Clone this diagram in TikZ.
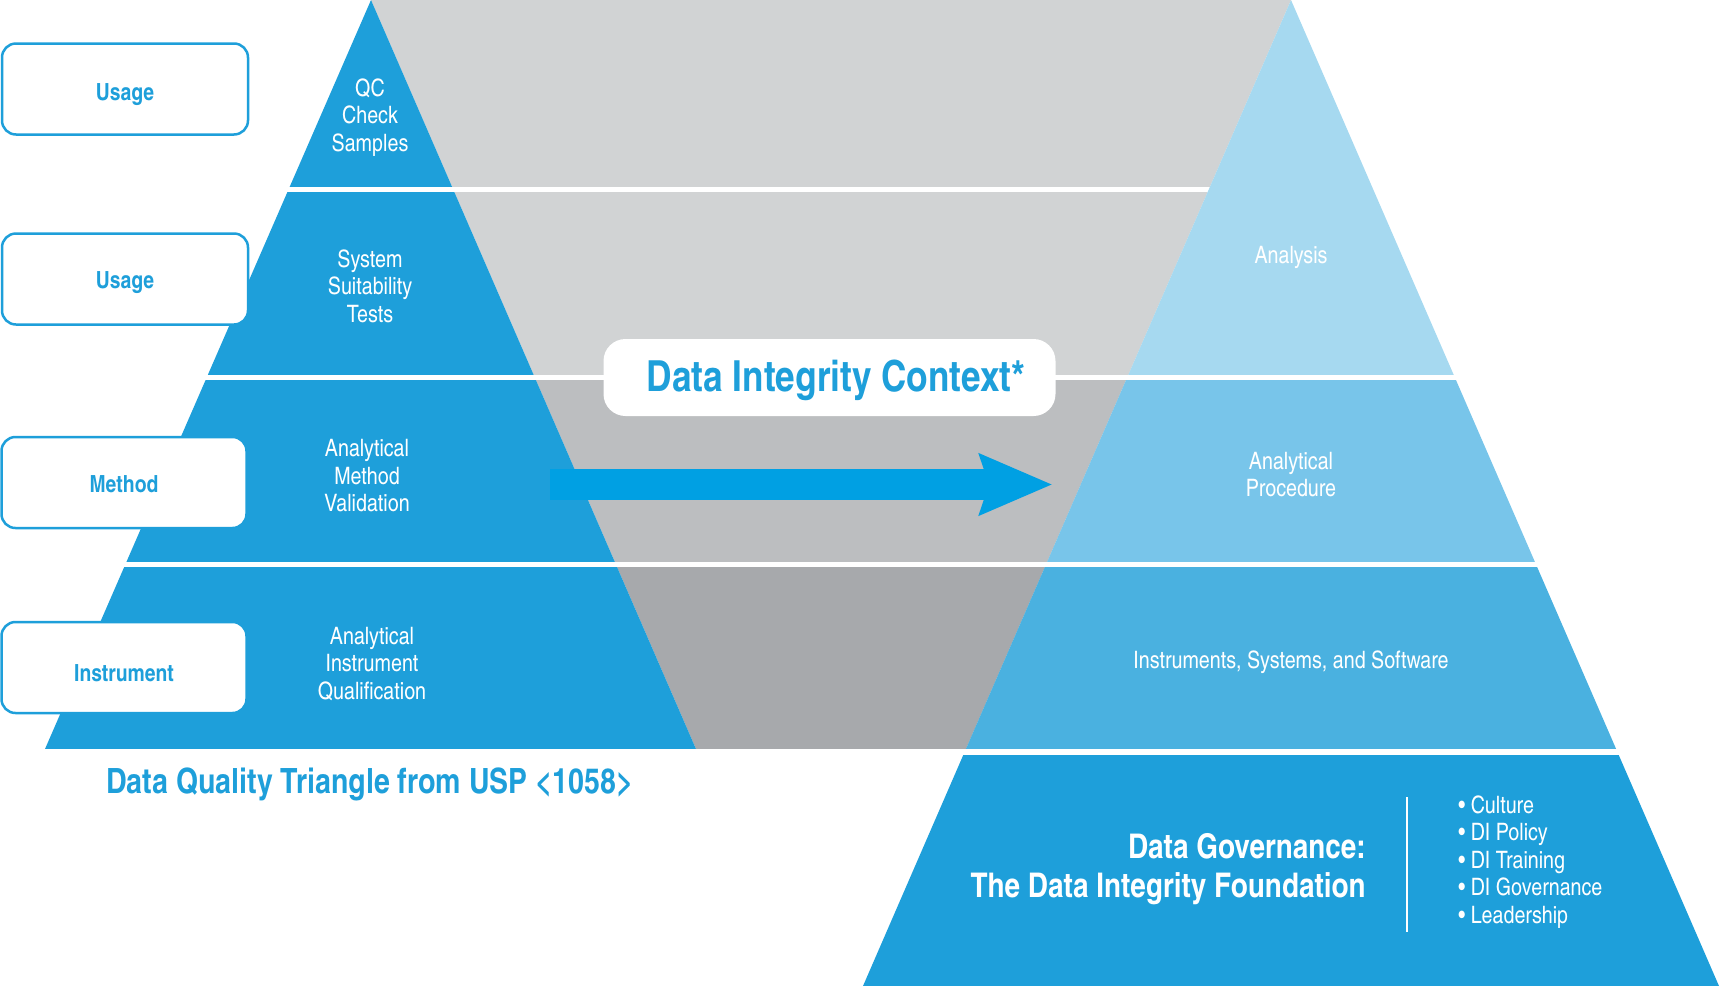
\documentclass[tikz,border=0pt]{standalone}
\usepackage{fontspec}
\setmainfont{texgyreheroscn}[Extension=.otf, UprightFont=*-regular, BoldFont=*-bold]
\newfontfamily\herosfam{TeX Gyre Heros}[FakeStretch=0.85]
\usetikzlibrary{arrows.meta}
\definecolor{tri}{RGB}{30,159,218}
\definecolor{arrowc}{RGB}{0,160,227}
\definecolor{gA}{RGB}{209,211,212}
\definecolor{gB}{RGB}{188,190,192}
\definecolor{gC}{RGB}{167,169,172}
\definecolor{rA}{RGB}{166,217,240}
\definecolor{rB}{RGB}{120,197,234}
\definecolor{rC}{RGB}{74,177,224}
\definecolor{rD}{RGB}{30,159,218}
\begin{document}
\begin{tikzpicture}[x=0.5pt,y=-0.5pt,
  lbox/.style={draw=tri, line width=1.25pt, fill=white, rounded corners=7pt,
    minimum width=123pt, minimum height=45.5pt, inner sep=0pt},
  ltext/.style={text=tri, inner sep=0pt, text height=0.72em, text depth=0pt,
    font=\fontsize{11.8}{13}\selectfont\bfseries},
  lite/.style={text=white, align=center, inner sep=0pt, font=\fontsize{12}{13.75}\selectfont},
  ctxbox/.style={fill=white, rounded corners=11pt, minimum width=226pt, minimum height=38.5pt, inner sep=0pt},
  ctxtext/.style={text=tri, inner sep=0pt, font=\fontsize{21.4}{24}\selectfont\bfseries},
  captext/.style={text=tri, inner sep=0pt, font=\fontsize{17.4}{20}\selectfont\bfseries},
  govtext/.style={text=white, align=right, inner sep=0pt, font=\fontsize{17}{19.5}\selectfont\bfseries},
  bullets/.style={text=white, align=left, inner sep=0pt, font=\fontsize{12}{13.75}\selectfont},
  bigarrow/.style={draw=arrowc, line width=15.5pt, line cap=butt,
    -{Stealth[length=36pt, width=29.5pt, inset=4.25pt]}},
  sep/.style={fill=white}
]
\useasboundingbox (0,0) rectangle (1720,986);
% gray middle
\begin{scope}
  \clip (371,0) -- (1291,0) -- (966,749) -- (696,749) -- cycle;
  \fill[gA] (0,0) rectangle (1720,377);
  \fill[gB] (0,377) rectangle (1720,564.5);
  \fill[gC] (0,564.5) rectangle (1720,749);
\end{scope}
% left triangle
\fill[tri] (371,0) -- (45,749) -- (696,749) -- cycle;
% first separator (stops at right triangle)
\fill[sep] (0,187) rectangle (1300,192);
% right triangle
\begin{scope}
  \clip (1291,0) -- (863,986) -- (1719,986) -- cycle;
  \fill[rA] (0,0) rectangle (1720,377);
  \fill[rB] (0,377) rectangle (1720,564.5);
  \fill[rC] (0,564.5) rectangle (1720,752);
  \fill[rD] (0,752) rectangle (1720,986);
\end{scope}
% full separators
\fill[sep] (0,374.5) rectangle (1720,380);
\fill[sep] (0,562) rectangle (1720,567);
\fill[sep] (0,749) rectangle (1720,755);

% left boxes
\node[lbox] (b1) at (125,89) {};
\node[lbox] (b2) at (125,279) {};
\node[lbox, minimum width=122.5pt] (b3) at (124,482.5) {};
\node[lbox, minimum width=122.5pt] (b4) at (124,667.5) {};
\node[ltext] (l1) at (125,93.5) {Usage};
\node[ltext] (l2) at (125,281.5) {Usage};
\node[ltext] (l3) at (124,485) {Method};
\node[ltext] (l4) at (124,674) {Instrument};

% left triangle texts
\node[lite] (t1) at (370,117.5) {QC\\Check\\Samples};
\node[lite] (t2) at (370,286) {System\\Suitability\\Tests};
\node[lite] (t3) at (367,476) {Analytical\\Method\\Validation};
\node[lite] (t4) at (372,664) {Analytical\\Instrument\\Qualification};

% right triangle texts
\node[lite] (r1) at (1291,257) {Analysis};
\node[lite] (r2) at (1291,474.5) {Analytical\\Procedure};
\node[lite] (r3) at (1291,662.5) {Instruments, Systems, and Software};

% caption
\node[captext] (cap) at (370,784) {Data Quality Triangle from USP {\herosfam\bfseries <}1058{\herosfam\bfseries >}};

% context box
\node[ctxbox] (ctx) at (829.5,377.5) {};
\node[ctxtext] (ctxt) at (836,380) {Data Integrity Context*};

% arrow
\coordinate (aS) at (550,484.5);
\coordinate (aE) at (1052.5,484.5);
\draw[bigarrow] (aS) -- (aE);

% governance
\node[govtext, anchor=east] (gov) at (1366,869) {Data Governance:\\The Data Integrity Foundation};
\draw[white, line width=1.25pt] (1407,797) -- (1407,932);
\node[bullets, anchor=west] (bl) at (1458,862) {\textbullet\ Culture\\\textbullet\ DI Policy\\\textbullet\ DI Training\\\textbullet\ DI Governance\\\textbullet\ Leadership};
\end{tikzpicture}
\end{document}
